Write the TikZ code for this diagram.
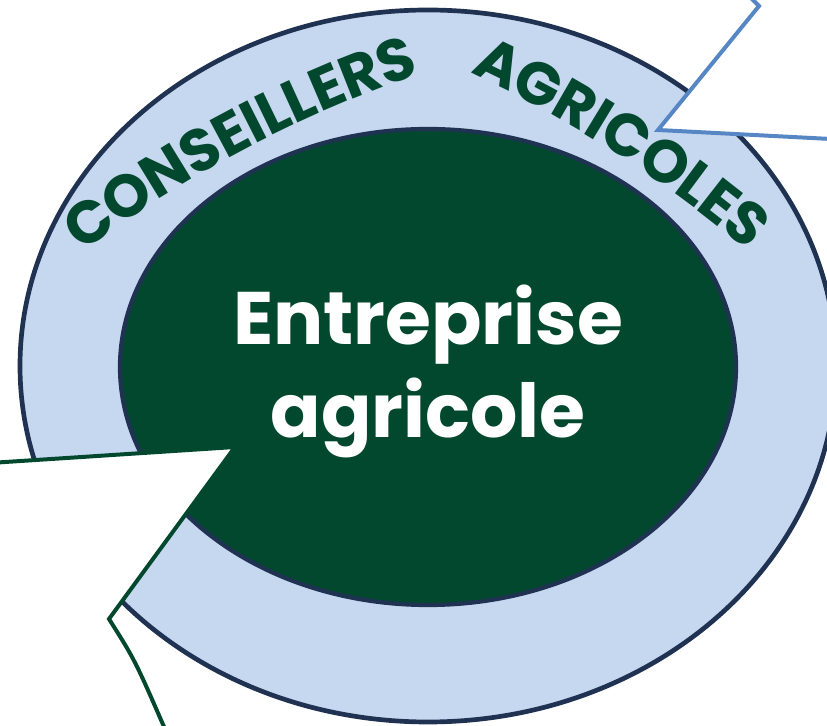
\documentclass[tikz,border=0pt]{standalone}
\usepackage{fontspec}
\newfontfamily\poppins{Poppins}
\usetikzlibrary{decorations.text}
\definecolor{farmgreen}{HTML}{02482F}
\definecolor{ringblue}{HTML}{C6D8EF}
\definecolor{ringnavy}{HTML}{1F3252}
\definecolor{bubbleblue}{HTML}{5686C4}
\tikzset{
  ringword/.style={decorate, decoration={text along path, text align=center, raise=-17.9pt, text color=farmgreen, text={|\poppins\bfseries\fontsize{51}{51}\selectfont|#1}}},
  bigword/.style={text=white, font=\poppins\bfseries\fontsize{63.5}{63.5}\selectfont, anchor=base}
}

\begin{document}
\begin{tikzpicture}[x=0.03cm, y=0.03cm]
\useasboundingbox (0,0) rectangle (827,726);
\clip (0,0) rectangle (827,726);
\filldraw[fill=ringblue, draw=ringnavy, line width=4pt] (428,360) ellipse [x radius=408, y radius=356];
\filldraw[fill=farmgreen, draw=ringnavy, line width=3.6pt] (428,359) ellipse [x radius=308, y radius=238];
\node[bigword] (firmtop) at (428,381) {Entreprise};
\node[bigword] (firmbottom) at (428,288) {agricole};
\filldraw[fill=white, draw=bubbleblue, line width=3.4pt] (748,731) -- (759,720) -- (658,596) -- (850,586) -- (850,740) -- cycle;
\filldraw[fill=white, draw=farmgreen, line width=3.4pt] (-10,263) -- (235,279) -- (109,107) .. controls (135,66) .. (168,-10) -- (-10,-10) -- cycle;
\path[ringword=CONSEILLERS] (819,-510) ++(132.9:1250) arc[start angle=132.9, end angle=102.9, radius=1250];
\path[ringword=AGRICOLES] (-49,-461) ++(72.3:1250) arc[start angle=72.3, end angle=42.3, radius=1250];
\end{tikzpicture}
\end{document}
